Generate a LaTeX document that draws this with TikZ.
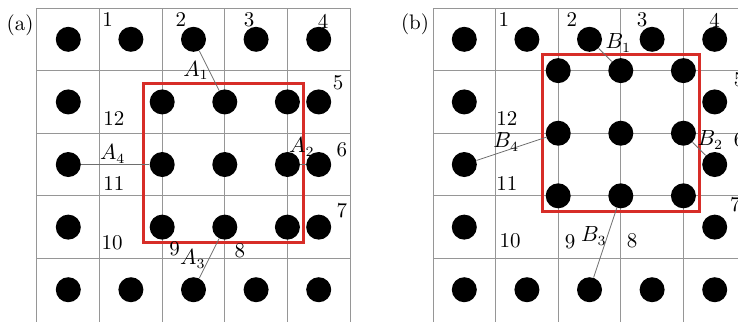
\documentclass[tikz,border=0pt]{standalone}
\usepackage{amsmath}
\usepackage{tikz}
\definecolor{gridgray}{RGB}{150, 150, 150}
\definecolor{leadgray}{RGB}{110, 110, 110}
\definecolor{boxred}{RGB}{215, 45, 40}

\begin{document}
\begin{tikzpicture}[x=31.3pt, y=-31.3pt,
    dot/.style={circle, fill=black, inner sep=0pt, minimum size=12.5pt},
    lbl/.style={inner sep=0pt, font=\fontsize{10.5}{12}\selectfont},
    gridline/.style={gridgray, line width=0.5pt},
    lead/.style={leadgray, line width=0.4pt},
    redbox/.style={boxred, line width=1.5pt}]
    \useasboundingbox (0,0) rectangle (11.789,5.128);
    \clip (0,0) rectangle (11.789,5.128);

    %% panel (a): shifted block
    \node[lbl] (taga) at (0.32,0.40) {(a)};
    \begin{scope}[shift={(0.591,0.128)}]
      \foreach \x in {0,...,5} \draw[gridline] (\x,0)--(\x,5.2);
      \foreach \y in {0,...,4} \draw[gridline] (0,\y)--(5,\y);

      %% outer ring
      \foreach \c in {0,...,4} {
        \node[dot] (a-\c-0) at (\c+0.5,0.5) {};
        \node[dot] (a-\c-4) at (\c+0.5,4.5) {};
      }
      \foreach \r in {1,2,3} {
        \node[dot] (a-0-\r) at (0.5,\r+0.5) {};
        \node[dot] (a-4-\r) at (4.5,\r+0.5) {};
      }
      %% inner 3x3, half a cell to the right
      \foreach \c in {2,3,4} \foreach \r in {1,2,3}
        \node[dot] (ai-\c-\r) at (\c,\r+0.5) {};

      \draw[redbox] (1.7,1.2) rectangle (4.25,3.74);

      \draw[lead] (a-2-0) -- (ai-3-1);
      \draw[lead] (a-0-2) -- (ai-2-2);
      \draw[lead] (ai-4-2) -- (a-4-2);
      \draw[lead] (ai-3-3) -- (a-2-4);

      \foreach \n/\x/\y in {1/1.13/0.19, 2/2.30/0.19, 3/3.39/0.19, 4/4.57/0.22,
          5/4.81/1.20, 6/4.87/2.27, 7/4.87/3.23, 8/3.24/3.87,
          9/2.20/3.85, 10/1.20/3.75, 11/1.23/2.80, 12/1.23/1.77}
        \node[lbl] (a\n) at (\x,\y) {\n};
      \node[lbl] (la1) at (2.54,1.00) {$A_1$};
      \node[lbl] (la2) at (4.23,2.22) {$A_2$};
      \node[lbl] (la3) at (2.49,4.01) {$A_3$};
      \node[lbl] (la4) at (1.21,2.33) {$A_4$};
    \end{scope}

    %% panel (b): block on the grid crossings
    \node[lbl] (tagb) at (6.63,0.38) {(b)};
    \begin{scope}[shift={(6.917,0.128)}]
      \foreach \x in {0,...,5} \draw[gridline] (\x,0)--(\x,5.2);
      \foreach \y in {0,...,4} \draw[gridline] (0,\y)--(5,\y);

      %% outer ring
      \foreach \c in {0,...,4} {
        \node[dot] (b-\c-0) at (\c+0.5,0.5) {};
        \node[dot] (b-\c-4) at (\c+0.5,4.5) {};
      }
      \foreach \r in {1,2,3} {
        \node[dot] (b-0-\r) at (0.5,\r+0.5) {};
        \node[dot] (b-4-\r) at (4.5,\r+0.5) {};
      }
      %% inner 3x3 on the crossings
      \foreach \c in {2,3,4} \foreach \r in {1,2,3}
        \node[dot] (bi-\c-\r) at (\c,\r) {};

      \draw[redbox] (1.75,0.75) rectangle (4.25,3.25);

      \draw[lead] (b-2-0) -- (bi-3-1);
      \draw[lead] (bi-2-2) -- (b-0-2);
      \draw[lead] (bi-4-2) -- (b-4-2);
      \draw[lead] (bi-3-3) -- (b-2-4);

      \foreach \n/\x/\y in {1/1.13/0.19, 2/2.22/0.19, 3/3.34/0.19, 4/4.50/0.19,
          5/4.89/1.15, 6/4.89/2.10, 7/4.83/3.14, 8/3.18/3.72,
          9/2.19/3.74, 10/1.23/3.72, 11/1.18/2.81, 12/1.18/1.77}
        \node[lbl] (b\n) at (\x,\y) {\n};
      \node[lbl] (lb1) at (2.96,0.56) {$B_1$};
      \node[lbl] (lb2) at (4.43,2.11) {$B_2$};
      \node[lbl] (lb3) at (2.57,3.64) {$B_3$};
      \node[lbl] (lb4) at (1.17,2.14) {$B_4$};
    \end{scope}
\end{tikzpicture}
\end{document}
